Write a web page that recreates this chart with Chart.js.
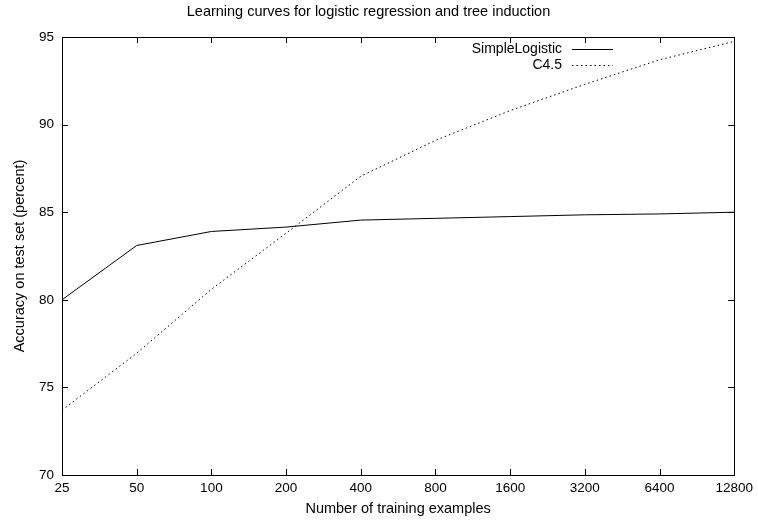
<!DOCTYPE html>
<html>
<head>
<meta charset="utf-8">
<script src="https://cdn.jsdelivr.net/npm/chart.js@4/dist/chart.umd.min.js"></script>
<style>
  html, body { margin: 0; padding: 0; background: #fff; }
  #wrap { width: 758px; height: 525px; }
</style>
</head>
<body>
<div id="wrap"><canvas id="myChart"></canvas></div>
<script>
var ctx = document.getElementById("myChart").getContext("2d");

const examples = ["25", "50", "100", "200", "400", "800", "1600", "3200", "6400", "12800"];
const simpleLogistic = [80.0, 83.1, 83.9, 84.15, 84.55, 84.65, 84.75, 84.85, 84.9, 85.0];
const c45 = [73.7, 76.95, 80.6, 83.8, 87.05, 89.1, 90.8, 92.3, 93.7, 94.75];
const yTicks = [70, 75, 80, 85, 90, 95];

const FONT = "'Liberation Sans', Arial, sans-serif";

// gnuplot style frame with inward ticks on all four sides + legend top right
const gnuplotFrame = {
  id: "gnuplotFrame",
  afterDatasetsDraw(chart) {
    const { ctx, chartArea: a, scales } = chart;
    const len = 6;
    ctx.save();
    ctx.strokeStyle = "#000";
    ctx.lineWidth = 1;
    ctx.beginPath();
    scales.x.ticks.forEach((t, i) => {
      const px = Math.round(scales.x.getPixelForTick(i)) + 0.5;
      ctx.moveTo(px, a.bottom);
      ctx.lineTo(px, a.bottom - len);
      ctx.moveTo(px, a.top);
      ctx.lineTo(px, a.top + len);
    });
    yTicks.forEach((v) => {
      const py = Math.round(scales.y.getPixelForValue(v)) + 0.5;
      ctx.moveTo(a.left, py);
      ctx.lineTo(a.left + len, py);
      ctx.moveTo(a.right, py);
      ctx.lineTo(a.right - len, py);
    });
    ctx.stroke();
    ctx.strokeRect(Math.round(a.left) + 0.5, Math.round(a.top) + 0.5,
      Math.round(a.right - a.left), Math.round(a.bottom - a.top));

    // legend
    ctx.font = "14px " + FONT;
    ctx.fillStyle = "#000";
    ctx.textAlign = "right";
    ctx.textBaseline = "middle";
    chart.data.datasets.forEach((ds, i) => {
      const y = a.top + 12 + i * 16;
      ctx.fillText(ds.label, a.left + 500, y);
      ctx.beginPath();
      ctx.setLineDash(ds.borderDash || []);
      ctx.strokeStyle = ds.borderColor;
      ctx.moveTo(a.left + 510, Math.round(y) + 0.5);
      ctx.lineTo(a.left + 551, Math.round(y) + 0.5);
      ctx.stroke();
    });
    ctx.restore();
  },
};

new Chart(ctx, {
  type: "line",
  data: {
    labels: examples,
    datasets: [
      {
        label: "SimpleLogistic",
        data: simpleLogistic,
        borderColor: "#000",
        borderWidth: 1,
        pointRadius: 0,
        tension: 0,
      },
      {
        label: "C4.5",
        data: c45,
        borderColor: "#000",
        borderWidth: 1,
        borderDash: [1.5, 3],
        pointRadius: 0,
        tension: 0,
      },
    ],
  },
  options: {
    responsive: true,
    maintainAspectRatio: false,
    animation: false,
    layout: { padding: { left: 0, right: 21, top: 0, bottom: 0 } },
    plugins: {
      legend: { display: false },
      tooltip: { enabled: false },
      title: {
        display: true,
        text: "Learning curves for logistic regression and tree induction",
        color: "#000",
        font: { family: FONT, size: 14.5, weight: "normal", lineHeight: 1.2 },
        padding: { top: 3.3, bottom: 16.3 },
      },
    },
    scales: {
      x: {
        offset: false,
        grid: { display: false, drawTicks: false },
        border: { display: false },
        ticks: { color: "#000", padding: 5, maxRotation: 0, autoSkip: false,
          font: { family: FONT, size: 13.5 } },
        title: {
          display: true,
          text: "Number of training examples",
          color: "#000",
          font: { family: FONT, size: 14.5 },
          padding: { top: 2, bottom: 7.3 },
        },
        afterFit(scale) { scale.height = 50; },
      },
      y: {
        min: 70,
        max: 95,
        afterBuildTicks(scale) { scale.ticks = yTicks.map((v) => ({ value: v })); },
        grid: { display: false, drawTicks: false },
        border: { display: false },
        ticks: { color: "#000", padding: 8, font: { family: FONT, size: 13.5 } },
        title: {
          display: true,
          text: "Accuracy on test set (percent)",
          color: "#000",
          font: { family: FONT, size: 14.5 },
          padding: { top: 11.3, bottom: 2 },
        },
        afterFit(scale) { scale.width = 62; },
      },
    },
  },
  plugins: [gnuplotFrame],
});
</script>
</body>
</html>
